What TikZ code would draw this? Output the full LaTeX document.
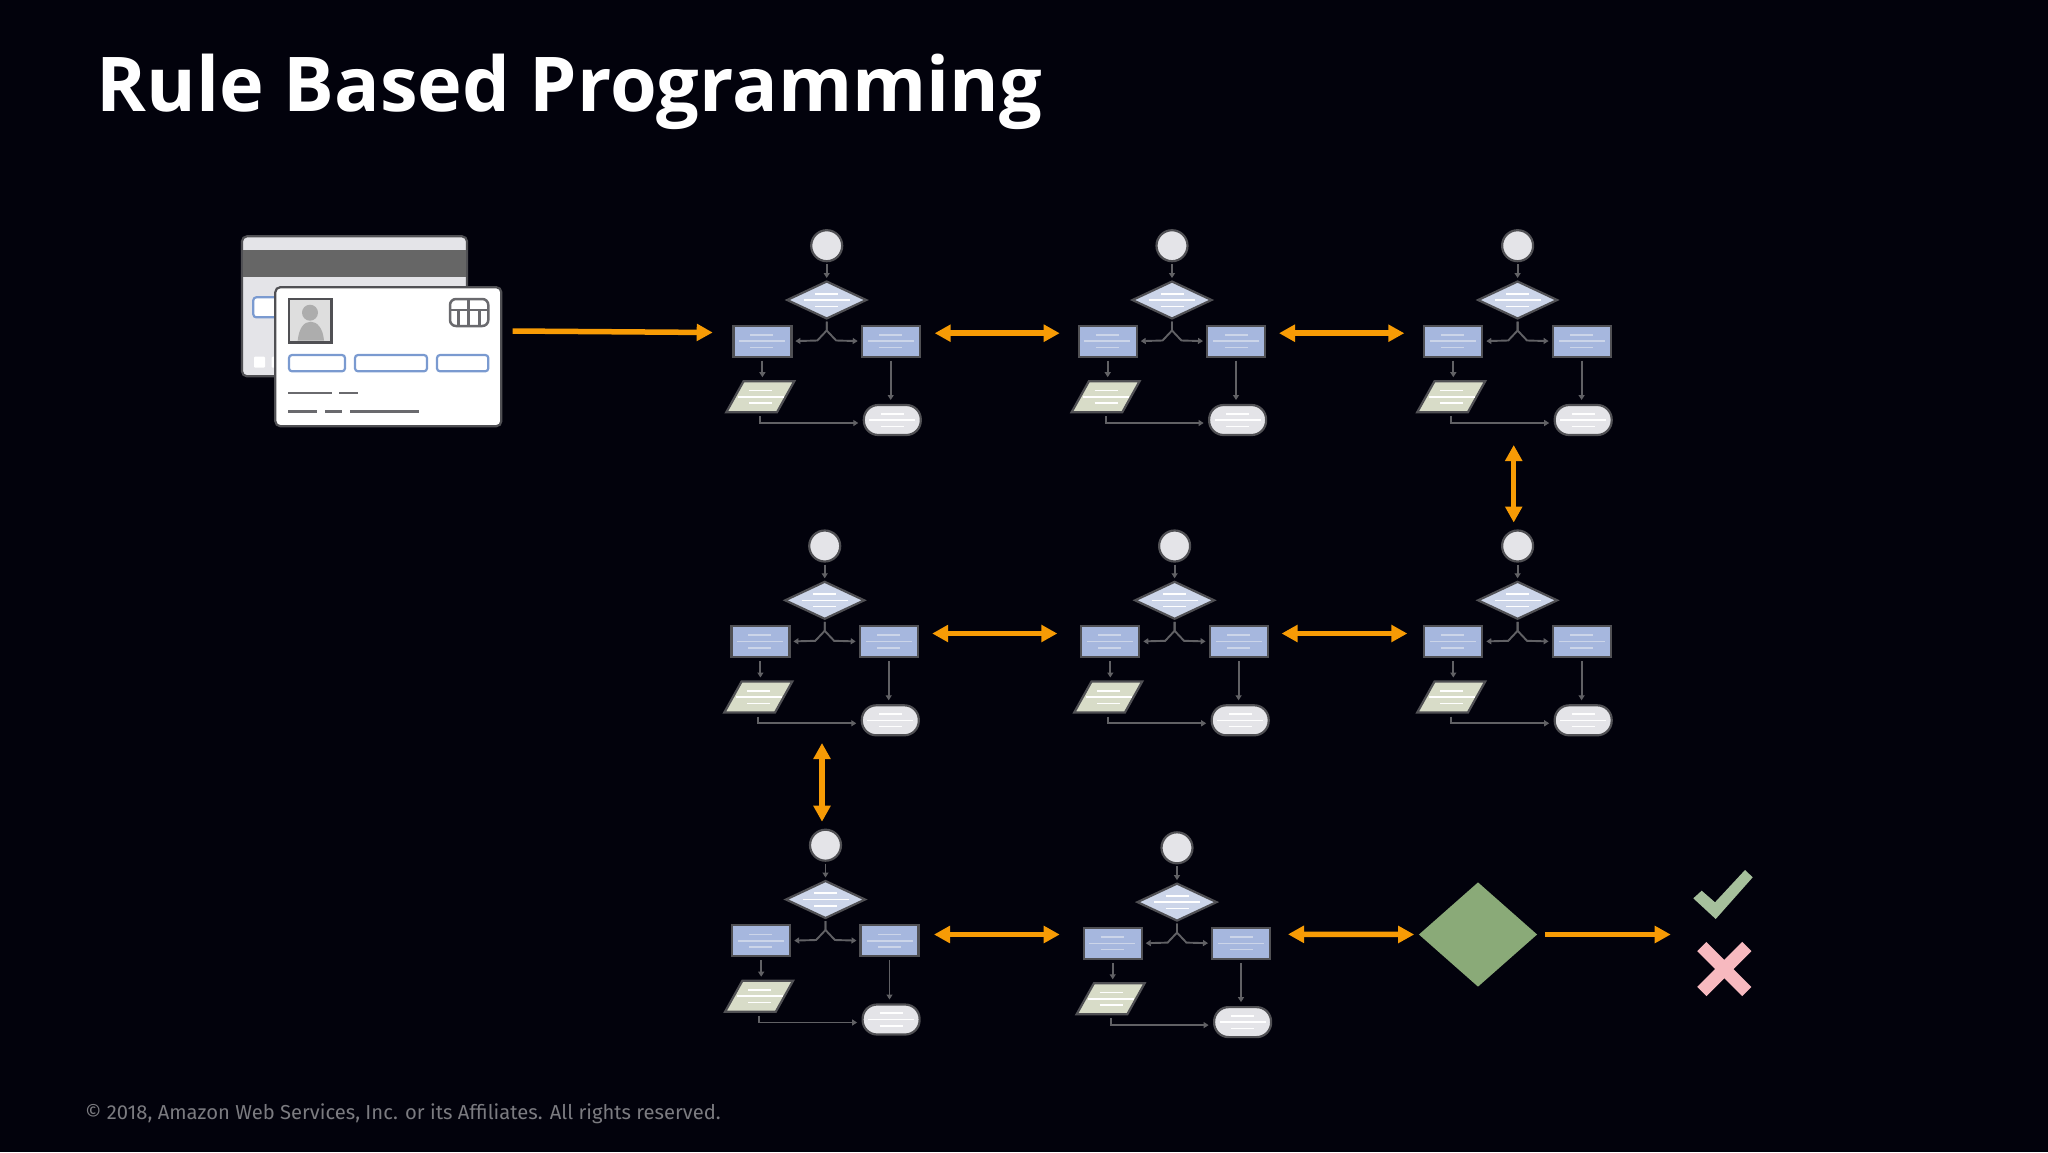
\documentclass[tikz,border=0pt]{standalone}
\usepackage{fontspec}
\setmainfont{Fira Sans}
\newfontfamily\titlefont{Open Sans}
\usetikzlibrary{arrows.meta,shapes.geometric}
\definecolor{bgdark}{HTML}{02020C}
\definecolor{edgegray}{HTML}{505054}
\definecolor{footgray}{HTML}{7B7B80}
\definecolor{flowblue}{HTML}{A6B7DE}
\definecolor{flowpale}{HTML}{CCD5E9}
\definecolor{flowsand}{HTML}{D8DCC8}
\definecolor{flowgray}{HTML}{E4E4E8}
\definecolor{cardblue}{HTML}{7A9AD0}
\definecolor{floworange}{HTML}{F79B05}
\definecolor{okgreen}{HTML}{A6C09C}
\definecolor{gategreen}{HTML}{8AAA78}
\definecolor{nopink}{HTML}{F7B9BF}
\newcommand{\threelines}[3]{
        \draw [textline, draw=#3] (#1-11.5, #2-6.3) -- (#1+11.5, #2-6.3);
        \draw [textline, draw=#3] (#1-23, #2) -- (#1+23, #2);
        \draw [textline, draw=#3] (#1-11.5, #2+6.3) -- (#1+11.5, #2+6.3);
}
\tikzset{
    flowshape/.style={draw=edgegray, line width=2.2pt, inner sep=1pt, outer sep=0pt},
    textline/.style={line width=1.6pt},
    thinarrow/.style={draw=edgegray!90!white, line width=1.9pt, -{Triangle[length=5pt,width=6pt]}},
    flowarrow/.style={draw=floworange, fill=floworange, line width=5.5pt, -{Triangle[length=16pt,width=16.5pt]}},
    bothways/.style={flowarrow, {Triangle[length=16pt,width=16.5pt]}-{Triangle[length=16pt,width=16.5pt]}},
    cardline/.style={draw=edgegray!85!white, line width=2.5pt},
    cardslot/.style={draw=cardblue, fill=white, line width=2.2pt, rounded corners=3pt},
    pics/flowunit/.style={code={
        \node [flowshape, circle, fill=flowgray, minimum size=31pt] (-circle) at (0, 0) {};
        \node [flowshape, diamond, fill=flowpale, minimum width=79pt, minimum height=37pt] (-diamond) at (0, 54.3) {};
        \node [flowshape, rectangle, fill=flowblue, minimum width=58pt, minimum height=31pt] (-left) at (-64.3, 95.5) {};
        \node [flowshape, rectangle, fill=flowblue, minimum width=58pt, minimum height=31pt] (-right) at (64, 95.5) {};
        \node [flowshape, trapezium, trapezium left angle=62.6, trapezium right angle=117.4, trapezium stretches=true, fill=flowsand, minimum width=68pt, minimum height=31pt] (-para) at (-66.4, 151) {};
        \node [flowshape, rectangle, rounded corners=14.5pt, fill=flowgray, minimum width=57pt, minimum height=30pt] (-pill) at (65.6, 174.3) {};
        \threelines{0}{54.3}{white}
        \threelines{-65}{95.5}{flowpale}
        \threelines{64}{95.5}{flowpale}
        \threelines{-66}{151}{white}
        \threelines{65.6}{174.3}{white}
        \draw [thinarrow, shorten <=3pt, shorten >=3.5pt] (-circle.south) -- (-diamond.north);
        \draw [thinarrow, shorten <=3pt, shorten >=4pt] (-diamond.south) -- ++(0, 12) -- ++(-9.4, 10) -- (-left.east);
        \draw [thinarrow, shorten <=3pt, shorten >=4pt] (-diamond.south) -- ++(0, 12) -- ++(9.4, 10) -- (-right.west);
        \draw [thinarrow, shorten <=4pt, shorten >=4pt] (-left.south) -- (-left.south |- -para.north);
        \draw [thinarrow, shorten <=4pt, shorten >=5pt] (-right.south) -- (-right.south |- -pill.north);
        \draw [thinarrow, shorten <=4pt, shorten >=5.5pt] (-para.south) |- ([yshift=-3pt]-pill.west);
    }},
}
\begin{document}
\begin{tikzpicture}[x=1pt, y=-1pt]
        \fill [bgdark] (0, 0) rectangle (2048, 1152);
        \useasboundingbox (0, 0) rectangle (2048, 1152);
        \node [anchor=base west, inner sep=0pt, text=white, font=\fontsize{75.6}{90}\selectfont\titlefont\bfseries] (title) at (96.5, 111) {Rule Based Programming};
        \node [anchor=base west, inner sep=0pt, text=footgray, font=\fontsize{20.2}{24}\selectfont] (footer) at (85, 1119) {© 2018, Amazon Web Services, Inc. or its Affiliates. All rights reserved.};
        % back of the card
        \node [flowshape, rectangle, rounded corners=5pt, fill=flowgray, minimum width=225pt, minimum height=140pt] (cardback) at (354.5, 306.3) {};
        \fill [black!60] (242.8, 250) rectangle (466.2, 276.7);
        \draw [cardslot] (253.3, 297.3) rectangle (300, 317.3);
        \fill [white, rounded corners=1pt] (254, 356.7) rectangle (265, 367.7);
        \fill [white, rounded corners=1pt] (271.7, 356.7) rectangle (285, 367.7);
        % front of the card
        \node [flowshape, rectangle, rounded corners=5pt, fill=white, minimum width=226pt, minimum height=139pt] (cardfront) at (388.3, 356.7) {};
        \filldraw [draw=edgegray, fill=black!13, line width=2.5pt] (289, 299) rectangle (331.7, 342.7);
        \fill [black!32] (310, 312.7) circle (8);
        \fill [black!32] (297.7, 340.5) .. controls (299, 328) and (304, 321.7) .. (310.7, 321.7) .. controls (317, 321.7) and (323, 328) .. (324, 340.5) -- cycle;
        \draw [cardline, rounded corners=6pt] (450, 299) rectangle (488.3, 326);
        \draw [cardline] (450, 310) -- (488.3, 310);
        \draw [cardline] (458.7, 310) -- (458.7, 326);
        \draw [cardline] (468.3, 299) -- (468.3, 326);
        \draw [cardline] (479.3, 310) -- (479.3, 326);
        \draw [cardslot] (289, 355) rectangle (345, 371.3);
        \draw [cardslot] (355, 355) rectangle (427, 371.3);
        \draw [cardslot] (437, 355) rectangle (488.3, 371.3);
        \draw [cardline] (288.3, 393) -- (331.7, 393);
        \draw [cardline] (339.3, 393) -- (358.3, 393);
        \draw [cardline] (288.3, 411.3) -- (316.7, 411.3);
        \draw [cardline] (325, 411.3) -- (342.3, 411.3);
        \draw [cardline] (350.3, 411.3) -- (419, 411.3);
        % the eight small flows
        \pic (u1) at (826.7, 245.7) {flowunit};
        \pic (u2) at (1172, 245.7) {flowunit};
        \pic (u3) at (1517.6, 245.7) {flowunit};
        \pic (u4) at (824.7, 546) {flowunit};
        \pic (u5) at (1174.6, 546) {flowunit};
        \pic (u6) at (1517.6, 546) {flowunit};
        \pic (u7) at (825.5, 845.2) {flowunit};
        \pic (u8) at (1177, 847.8) {flowunit};
        % gate and results
        \node [diamond, fill=gategreen, inner sep=1pt, minimum width=118.3pt, minimum height=104.4pt] (gate) at (1478, 934.5) {};
        \coordinate (v1) at (1513.7, 445);
        \coordinate (v2) at (822, 743);
        \coordinate (result) at (1670.7, 934.5);
        \fill [okgreen] (1693.3, 898.3) -- (1701.7, 890.7) -- (1715, 902.3) -- (1745, 870) -- (1752.7, 877.3) -- (1715.7, 919) -- cycle;
        \draw [nopink, line width=13pt] (1701.8, 946.5) -- (1746.8, 991.5);
        \draw [nopink, line width=13pt] (1746.8, 946.5) -- (1701.8, 991.5);
        % orange arrows
        \draw [flowarrow] ([shift={(11.3,-25.7)}]cardfront.east) -- ([shift={(-20.7,-8.7)}]u1-left.west);
        \draw [bothways] ([shift={(15,-8)}]u1-right.east) -- ([shift={(-19,-8)}]u2-left.west);
        \draw [bothways] ([shift={(14,-8)}]u2-right.east) -- ([shift={(-20,-8)}]u3-left.west);
        \draw [bothways] (v1) -- ([yshift=8pt]v1 |- u6-circle.north);
        \draw [bothways] ([shift={(14.5,-8)}]u4-right.east) -- ([shift={(-24,-8)}]u5-left.west);
        \draw [bothways] ([shift={(14,-8)}]u5-right.east) -- ([shift={(-17,-8)}]u6-left.west);
        \draw [bothways] (v2) -- ([yshift=8pt]v2 |- u7-circle.north);
        \draw [bothways] ([shift={(15.5,-6.2)}]u7-right.east) -- ([shift={(-24,-8.8)}]u8-left.west);
        \draw [bothways] ([shift={(18,-9)}]u8-right.east) -- ([xshift=-4.5pt]gate.west);
        \draw [flowarrow] ([xshift=8pt]gate.east) -- (result);
    \end{tikzpicture}
\end{document}
